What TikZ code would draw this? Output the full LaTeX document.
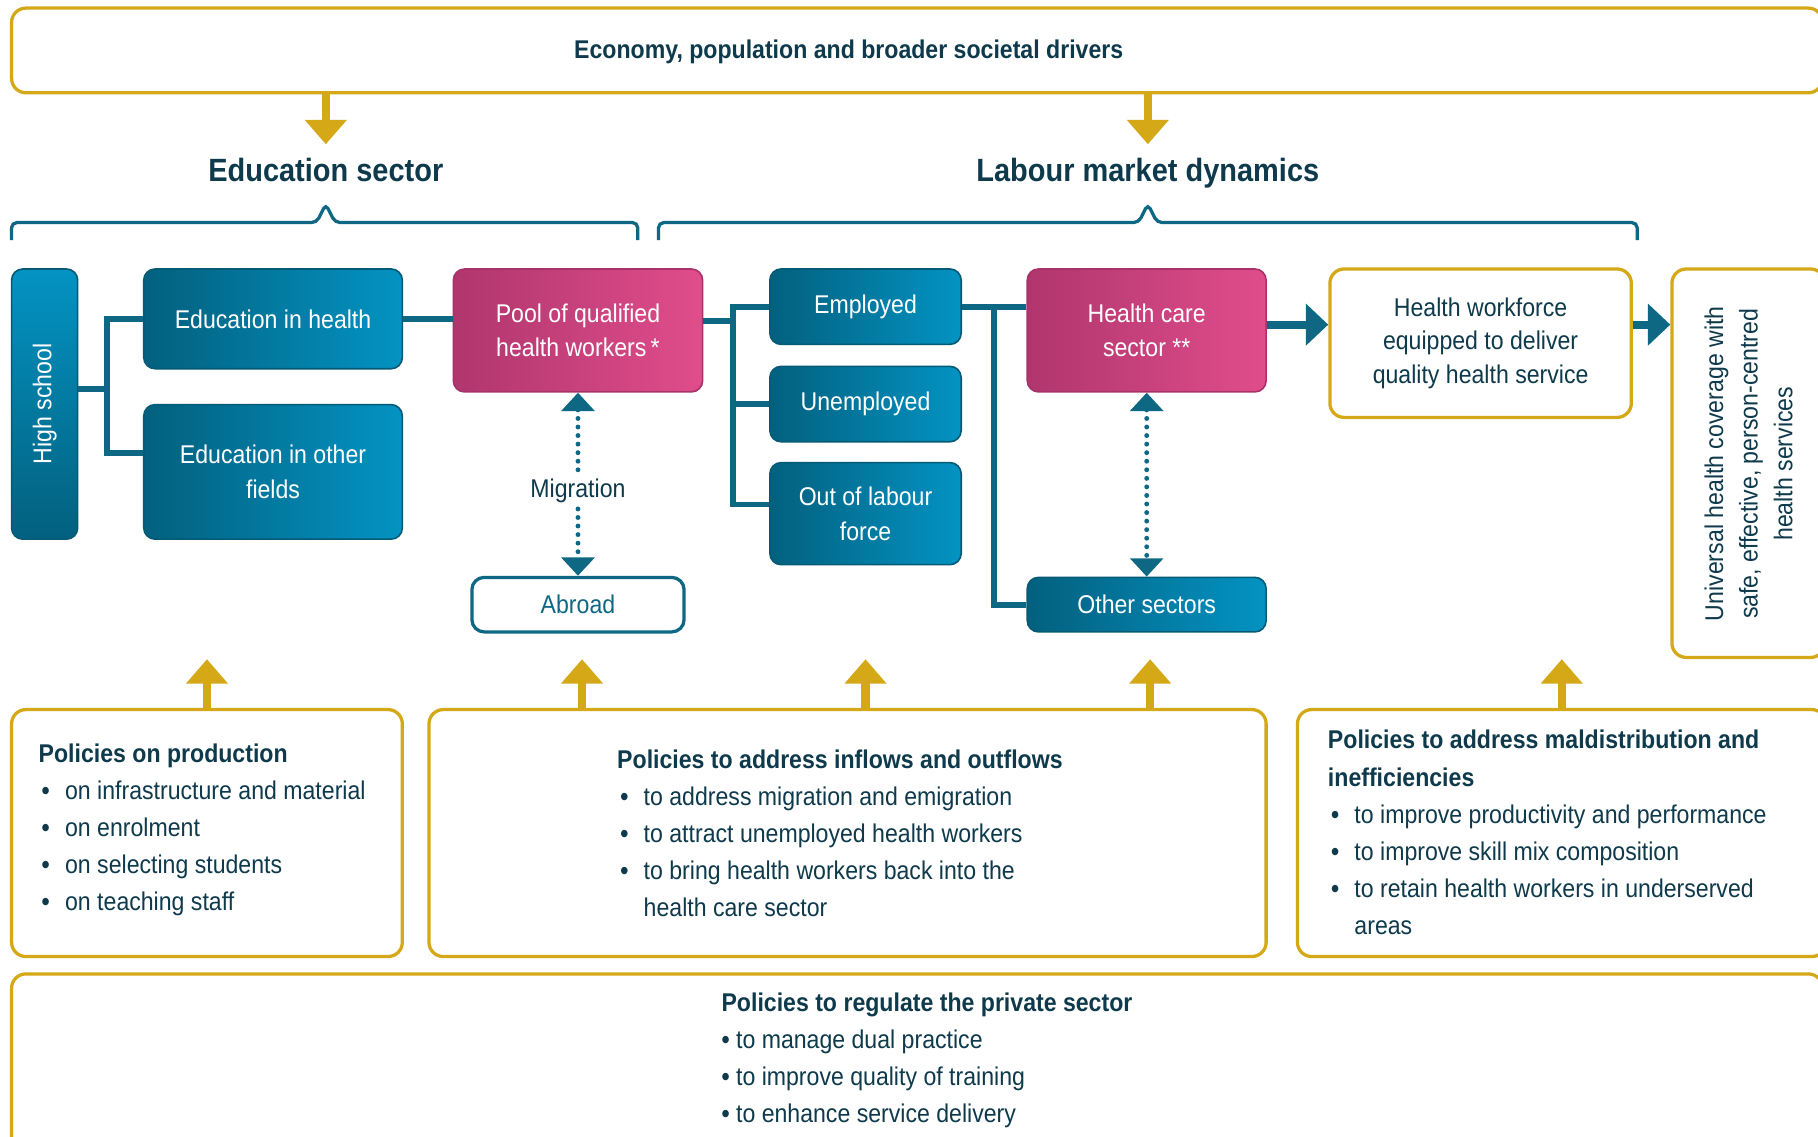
\documentclass[tikz,border=0pt]{standalone}
\usepackage{fontspec}
\setmainfont{Liberation Sans}[FakeStretch=0.9]
\usetikzlibrary{arrows.meta,calc}
\definecolor{goldc}{HTML}{D4A817}
\definecolor{navy}{HTML}{0E3A4C}
\definecolor{tline}{HTML}{0E6884}
\definecolor{tealL}{HTML}{03607E}
\definecolor{tealR}{HTML}{0393C3}
\definecolor{tealB}{HTML}{055A76}
\definecolor{pinkL}{HTML}{B0366E}
\definecolor{pinkR}{HTML}{E04D8B}
\definecolor{pinkB}{HTML}{A8336A}
\newcommand\bodyfont{\fontsize{12.6pt}{17pt}\selectfont}
\newcommand\hwfont{\fontsize{12.6pt}{16.5pt}\selectfont}
\newcommand\listfont{\fontsize{12.6pt}{18.2pt}\selectfont}
\newcommand\headfont{\fontsize{15.8pt}{19pt}\selectfont\bfseries}
\newcommand\bdot{\textbf{\textbullet}}
\newcommand\bitem[1]{\makebox[13pt][l]{\hspace{1.5pt}\bdot}#1}
\newcommand\bcont[1]{\hspace*{13pt}#1}
\def\U{0.02cm}
\tikzset{mytri/.tip={Triangle[width=16pt,length=9pt]}}
\begin{document}
\begin{tikzpicture}[x=0.02cm,y=-0.02cm,
  tbase/.style={draw=tealB, line width=0.8pt, rounded corners=5.5pt, text=white, font=\bodyfont, align=center, inner sep=0pt},
  tbox/.style={tbase, left color=tealL, right color=tealR},
  pbox/.style={tbase, draw=pinkB, left color=pinkL, right color=pinkR},
  gbox/.style={draw=goldc, line width=1.6pt, rounded corners=7pt, fill=white, text=navy, font=\bodyfont, align=center, inner sep=0pt},
  conn/.style={draw=tline, line width=2.8pt},
  bracket/.style={draw=tline, line width=1.6pt},
  garrow/.style={draw=goldc, line width=4pt, -{Triangle[width=20pt,length=12pt]}},
  tarrow/.style={draw=tline, line width=4pt, -{Triangle[width=20pt,length=11pt]}},
  dots/.style={draw=tline, line width=2.4pt, line cap=round, dash pattern=on 0pt off 4.2pt},
  ptext/.style={text=navy, font=\listfont, align=left, inner sep=0pt}
]
\clip (0,0) rectangle (1568,980);
\fill[white] (0,0) rectangle (1568,980);

% top driver box
\node[gbox, minimum width=1562*\U, minimum height=73*\U] (top) at (791,43.5) {};
\node[text=navy, font={\bodyfont\bfseries}, inner sep=0pt] (topt) at (732,45) {Economy, population and broader societal drivers};

% headings
\node[text=navy, font=\headfont, inner sep=1pt] (edus) at (281,147) {Education sector};
\node[text=navy, font=\headfont, inner sep=1pt] (labm) at (990,149) {Labour market dynamics};
\draw[garrow] (top.south -| edus) -- ++(0,43);
\draw[garrow] (top.south -| labm) -- ++(0,43);

% brackets
\draw[bracket, rounded corners=2.5pt] (10,207) |- (273,192) -- (281,176) -- (289,192) -| (550,207);
\draw[bracket, rounded corners=2.5pt] (568,207) |- (982,192) -- (990,176) -- (998,192) -| (1412,207);

% education boxes
\node[tbase, top color=tealR, bottom color=tealL, minimum width=57*\U, minimum height=233*\U] (hs) at (38.5,348.5) {};
\node[rotate=90, text=white, font=\bodyfont, inner sep=0pt] (hst) at (hs.center) {High school};
\node[tbox, minimum width=223*\U, minimum height=86*\U] (eduh) at (235.5,275) {Education in health};
\node[tbox, minimum width=223*\U, minimum height=116*\U] (eduo) at (235.5,407) {Education in other\\fields};
\node[pbox, minimum width=215*\U, minimum height=106*\U] (pool) at (498.5,285) {Pool of qualified\\health workers\,*};
\node[draw=tline, line width=1.6pt, rounded corners=6pt, fill=white, text=tline, font=\bodyfont, inner sep=0pt, minimum width=183*\U, minimum height=47*\U] (abroad) at (498.5,521.5) {Abroad};
\node[text=navy, font=\bodyfont, inner sep=3pt] (migr) at (498.5,423) {Migration};

% labour market boxes
\node[tbox, minimum width=165*\U, minimum height=65*\U] (emp) at (746.5,264.5) {Employed};
\node[tbox, minimum width=165*\U, minimum height=65*\U] (unemp) at (746.5,348.5) {Unemployed};
\node[tbox, minimum width=165*\U, minimum height=88*\U] (olf) at (746.5,443) {Out of labour\\force};
\node[pbox, minimum width=206*\U, minimum height=106*\U] (hcs) at (989,285) {Health care\\sector **};
\node[tbox, minimum width=206*\U, minimum height=47*\U] (oth) at (989,521.5) {Other sectors};
\node[gbox, font=\hwfont, minimum width=260*\U, minimum height=128*\U] (hw) at (1277,296) {Health workforce\\equipped to deliver\\quality health service};
\node[gbox, minimum width=132*\U, minimum height=335*\U] (uhcbox) at (1508,399.5) {};
\node[rotate=90, text=navy, font=\bodyfont, align=center, inner sep=0pt] (uhc) at (1508,400) {Universal health coverage with\\safe, effective, person-centred\\health services};

% connectors
\path ($(hs.east)+(0,-13)$) coordinate (hsj);
\coordinate (j1) at (92,0);
\path ($(eduo.west)+(0,-16)$) coordinate (eo);
\draw[conn] (hsj) -- (hsj -| j1);
\draw[conn] (eduh.west) -| (j1 |- eo) -- (eo);
\draw[conn] (eduh.east) -- (eduh.east -| pool.west);

\path ($(pool.east)+(0,-8)$) coordinate (pj);
\coordinate (j2) at (632,0);
\path ($(olf.west)+(0,-8)$) coordinate (oj);
\draw[conn] (pj) -- (pj -| j2);
\draw[conn] (emp.west) -| (j2 |- oj) -- (oj);
\draw[conn] (unemp.west) -- (unemp.west -| j2);

\coordinate (j3) at (857,0);
\draw[conn] (emp.east) -- (emp.east -| hcs.west);
\draw[conn] (emp.east -| j3) |- (oth.west);

\path ($(hcs.east)+(0,-5)$) coordinate (a1);
\draw[tarrow] (a1) -- (a1 -| hw.west);
\path ($(hw.east)+(0,-16)$) coordinate (a2);
\draw[tarrow] (a2) -- (a2 -| uhcbox.west);

\draw[dots, mytri-] (pool.south) -- (migr.north);
\draw[dots, -mytri] (migr.south) -- (abroad.north);
\draw[dots, mytri-mytri] (hcs.south) -- (oth.north);

% policy boxes
\node[gbox, minimum width=337*\U, minimum height=213*\U] (pol1) at (178.5,718.5) {};
\node[gbox, minimum width=722*\U, minimum height=213*\U] (pol2) at (731,718.5) {};
\node[gbox, minimum width=456*\U, minimum height=213*\U] (pol3) at (1347,718.5) {};
\node[gbox, minimum width=1562*\U, minimum height=160*\U] (pol4) at (791,920) {};

\path ($(pol2.north -| abroad)+(3.5,0)$) coordinate (u2);
\path ($(pol2.north -| oth)+(3,0)$) coordinate (u4);
\draw[garrow] (pol1.north) -- ++(0,-42);
\draw[garrow] (u2) -- ++(0,-42);
\draw[garrow] (pol2.north -| emp) -- ++(0,-42);
\draw[garrow] (u4) -- ++(0,-42);
\draw[garrow] (pol3.north) -- ++(0,-42);

\node[ptext, anchor=west] (p1t) at (33,716) {\textbf{Policies on production}\\
\bitem{on infrastructure and material}\\
\bitem{on enrolment}\\
\bitem{on selecting students}\\
\bitem{on teaching staff}};
\node[ptext, anchor=west] (p2t) at (532,719) {\textbf{Policies to address inflows and outflows}\\
\bitem{to address migration and emigration}\\
\bitem{to attract unemployed health workers}\\
\bitem{to bring health workers back into the}\\
\bcont{health care sector}};
\node[ptext, anchor=west] (p3t) at (1145,718) {\textbf{Policies to address maldistribution and}\\
\textbf{inefficiencies}\\
\bitem{to improve productivity and performance}\\
\bitem{to improve skill mix composition}\\
\bitem{to retain health workers in underserved}\\
\bcont{areas}};
\node[ptext, anchor=west] (p4t) at (622,914.5) {\textbf{Policies to regulate the private sector}\\
\bdot\ to manage dual practice\\
\bdot\ to improve quality of training\\
\bdot\ to enhance service delivery};
\end{tikzpicture}
\end{document}
